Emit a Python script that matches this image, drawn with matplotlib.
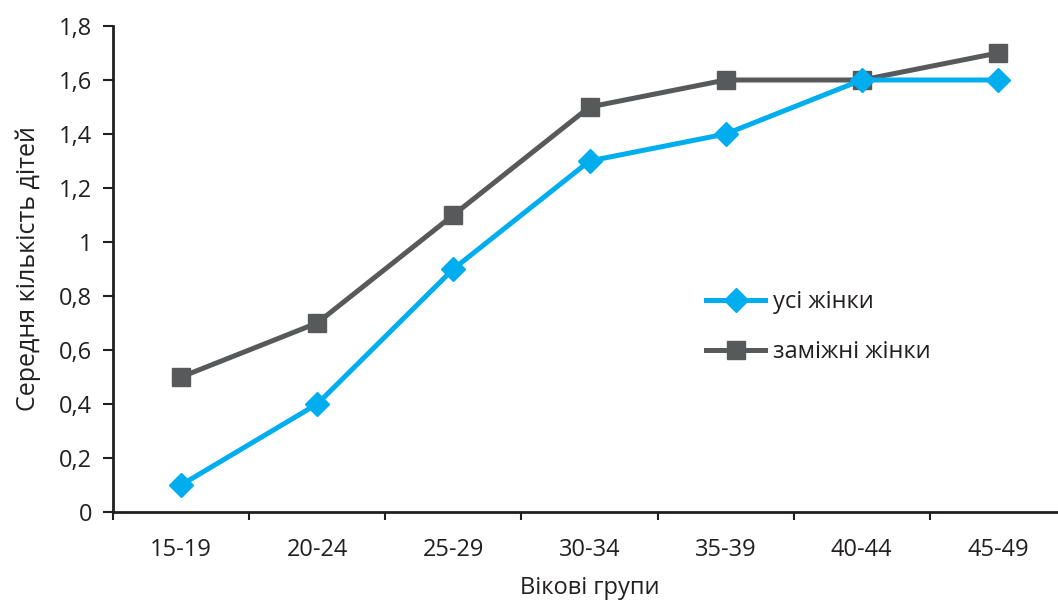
import matplotlib
matplotlib.use("Agg")
import matplotlib.pyplot as plt
from matplotlib.ticker import FixedLocator

categories = ["15-19", "20-24", "25-29", "30-34", "35-39", "40-44", "45-49"]
all_women = [0.1, 0.4, 0.9, 1.3, 1.4, 1.6, 1.6]
married_women = [0.5, 0.7, 1.1, 1.5, 1.6, 1.6, 1.7]
y_ticks = [0, 0.2, 0.4, 0.6, 0.8, 1.0, 1.2, 1.4, 1.6, 1.8]
y_tick_labels = ["0", "0,2", "0,4", "0,6", "0,8", "1", "1,2", "1,4", "1,6", "1,8"]

plt.rcParams['font.family'] = ['Open Sans', 'DejaVu Sans']
txt = "#231F20"
blue = "#00AEEF"
gray = "#58595B"
fs = 17

fig = plt.figure(figsize=(10.58, 6), dpi=100)
ax = fig.add_axes([113/1058, 1-512/600, 953/1058, (512-26)/600])

x = list(range(len(categories)))
ax.plot(x, married_women, color=gray, lw=3.6, marker="s", ms=13, label="заміжні жінки", zorder=3)
ax.plot(x, all_women, color=blue, lw=3.6, marker="D", ms=12, label="усі жінки", zorder=4)

ax.set_xlim(-0.5, len(categories) - 0.5)
ax.set_ylim(0, 1.8)
ax.set_yticks(y_ticks)
ax.set_yticklabels(y_tick_labels)
ax.set_xticks(x)
ax.set_xticklabels(categories)
ax.xaxis.set_minor_locator(FixedLocator([i - 0.5 for i in range(len(categories) + 1)]))
ax.tick_params(axis="x", which="major", length=0, pad=19, labelsize=fs, labelcolor=txt)
ax.tick_params(axis="x", which="minor", length=6, width=1.5, color=txt, direction="out")
ax.tick_params(axis="y", length=7, width=1.5, color=txt, labelsize=fs, labelcolor=txt, pad=8)

for s in ["top", "right"]:
    ax.spines[s].set_visible(False)
for s in ["left", "bottom"]:
    ax.spines[s].set_color(txt)
    ax.spines[s].set_linewidth(2)

ax.set_xlabel("Вікові групи", fontsize=fs, color=txt, labelpad=10)
ax.set_ylabel("Середня кількість дітей", fontsize=18, color=txt, labelpad=13)

handles, labels = ax.get_legend_handles_labels()
leg = ax.legend(handles[::-1], labels[::-1], loc="center left", bbox_to_anchor=(0.6, 0.38),
                frameon=False, fontsize=fs, handlelength=2.5, labelspacing=1.1, handletextpad=0.35)
for t in leg.get_texts():
    t.set_color(txt)

fig.savefig("out.png", dpi=100)
